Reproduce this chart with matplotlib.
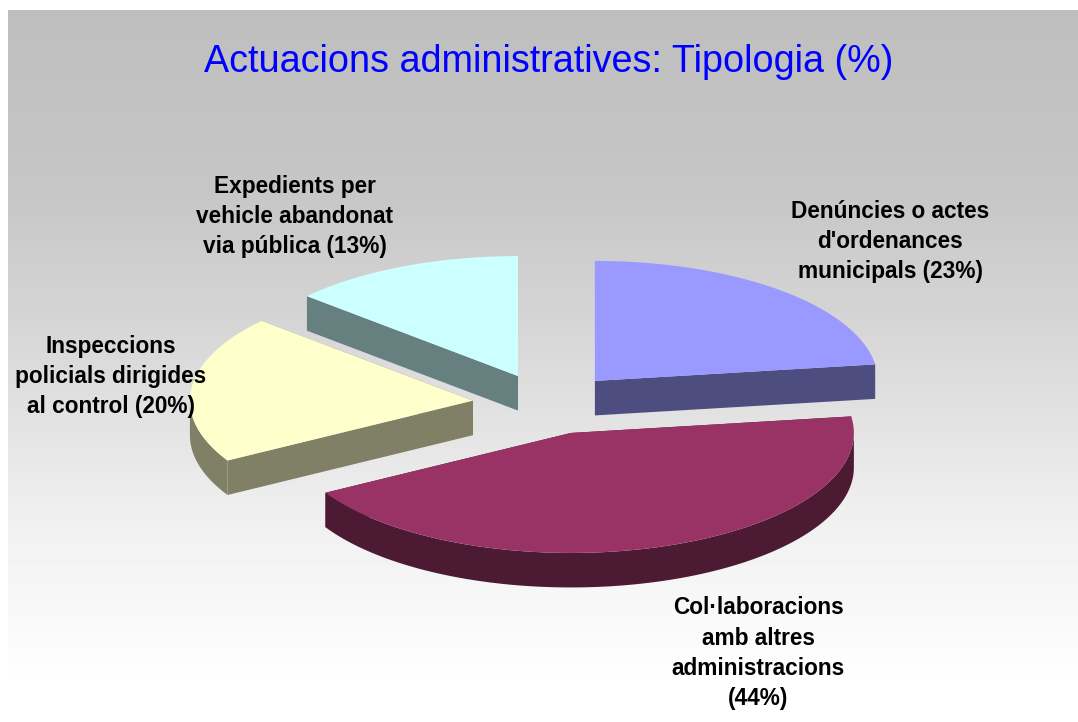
import numpy as np
import matplotlib
matplotlib.use("Agg")
import matplotlib.pyplot as plt

plt.rcParams['font.family'] = ['Liberation Sans', 'DejaVu Sans']

title = "Actuacions administratives: Tipologia (%)"
labels = ["Denúncies o actes\nd'ordenances\nmunicipals (23%)",
          "Col·laboracions\namb altres\nadministracions\n(44%)",
          "Inspeccions\npolicials dirigides\nal control (20%)",
          "Expedients per\nvehicle abandonat\nvia pública (13%)"]
values = [22.8, 43.9, 19.9, 13.4]
top_colors = ['#9999ff', '#993366', '#ffffcc', '#ccffff']
side_colors = ['#4d4d80', '#4d1a33', '#808066', '#668080']
label_x = [890, 758, 111, 295]
label_y = [211, 608, 346, 186]
explode = [0.255, 0.255, 0.265, 0.255]

W, H = 1078, 722
cx, cy = 547.5, 404
rx, ry = 283, 120
depth = 34.5
line_step = 30.3


def wedge_outline(t0, t1):
    # outer arc of a wedge, angles clockwise from 12 o'clock
    t = np.linspace(t0, t1, 120)
    return t, np.sin(t), -np.cos(t)


fig = plt.figure(figsize=(W / 100, H / 100), dpi=100)
ax = fig.add_axes([0, 0, 1, 1])
ax.set_xlim(0, W)
ax.set_ylim(H, 0)
ax.axis('off')

# background, grey at the top and fading to white
ys = np.arange(10, H)
grey = np.interp(ys, [10, 190, 320, 520, 690], [190, 198, 213, 240, 255]) / 255
ax.imshow(grey[:, None], cmap='gray', vmin=0, vmax=1, aspect='auto',
          extent=[8, W, H, 10], zorder=0)

fracs = np.array(values) / np.sum(values)
edges = np.concatenate([[0], np.cumsum(fracs)]) * 2 * np.pi

for i in range(len(values)):
    t0, t1 = edges[i], edges[i + 1]
    mid = (t0 + t1) / 2
    ox = cx + explode[i] * rx * np.sin(mid)
    oy = cy - explode[i] * ry * np.cos(mid)
    t, sx, sy = wedge_outline(t0, t1)
    px = ox + rx * sx
    py = oy + ry * sy

    # cut faces, then the front rim, then the top
    for k in [0, -1]:
        ax.fill([ox, px[k], px[k], ox], [oy, py[k], py[k] + depth, oy + depth],
                color=side_colors[i], lw=0, zorder=2)
    front = np.cos(t) <= 0
    if front.any():
        ax.fill(np.r_[px[front], px[front][::-1]],
                np.r_[py[front], py[front][::-1] + depth],
                color=side_colors[i], lw=0, zorder=2)
    ax.fill(np.r_[ox, px], np.r_[oy, py], color=top_colors[i], lw=0, zorder=3)

for lab, x, y0 in zip(labels, label_x, label_y):
    for j, line in enumerate(lab.split('\n')):
        ax.text(x, y0 + j * line_step, line, ha='center', va='center', fontsize=16.3,
                fontweight='bold', color='black', zorder=5)

ax.text(549, 62, title, ha='center', va='center', fontsize=27.2, color='#0000ff', zorder=5)

fig.savefig('out.png', dpi=100)
